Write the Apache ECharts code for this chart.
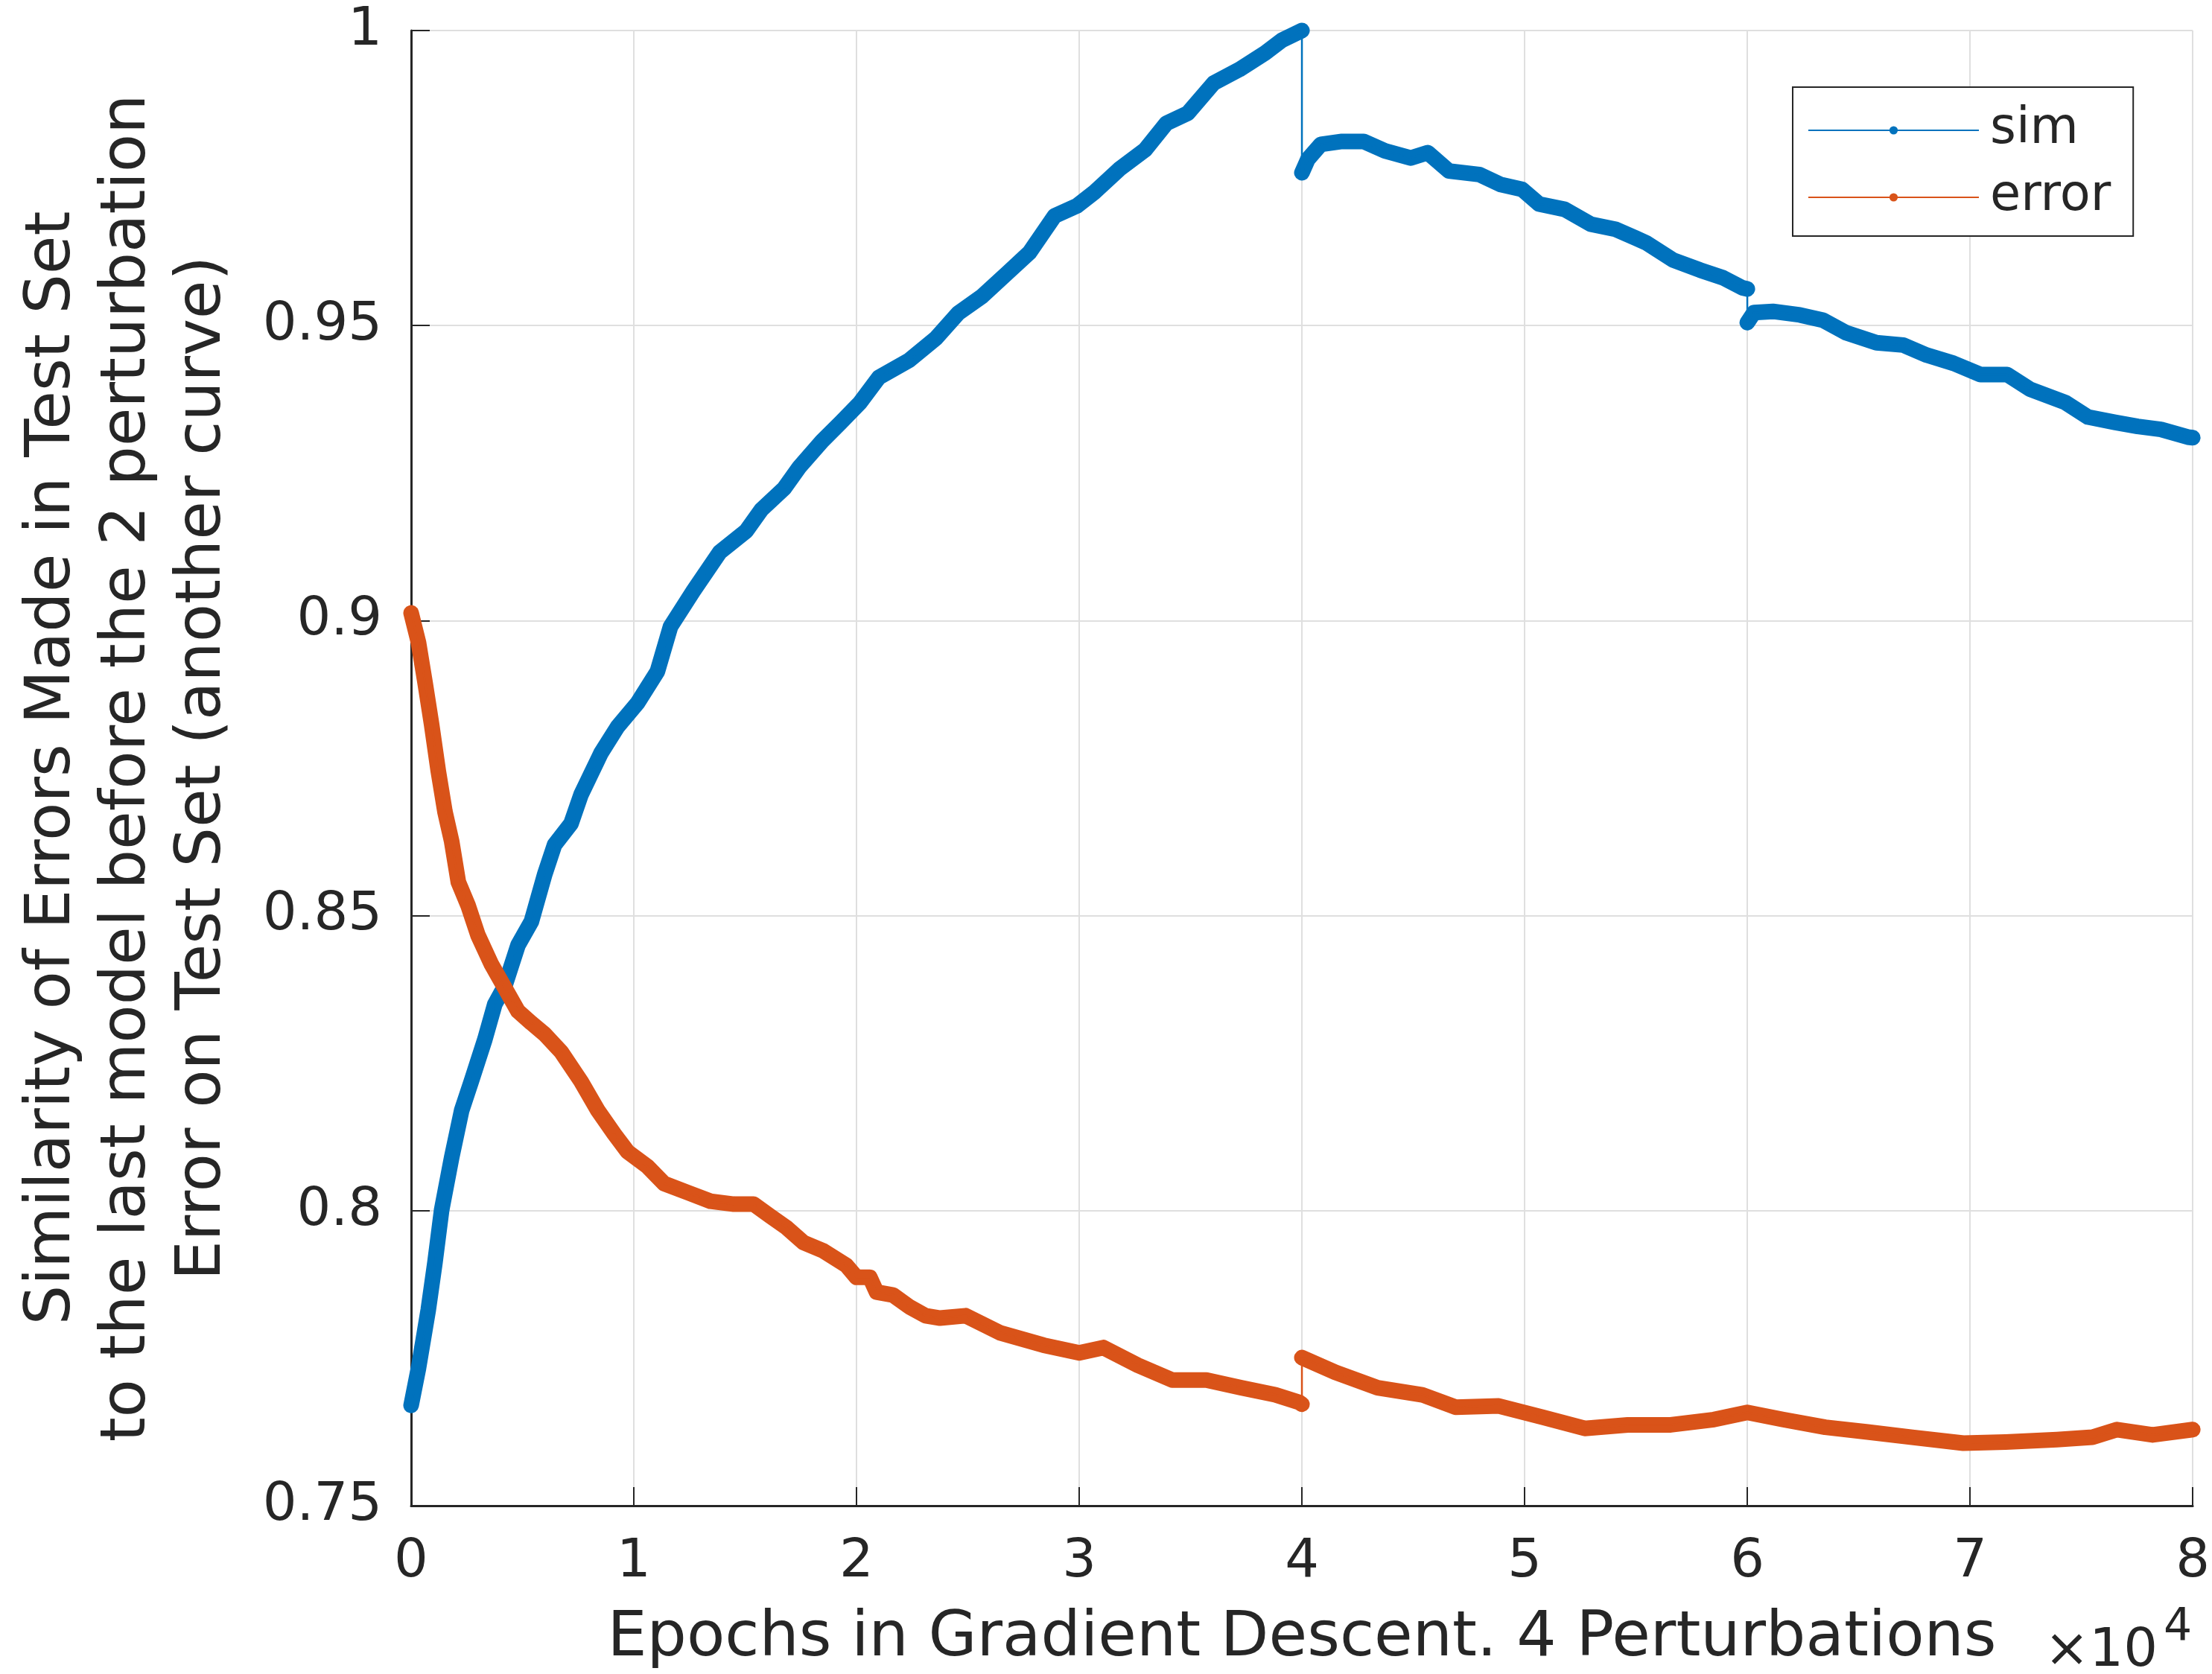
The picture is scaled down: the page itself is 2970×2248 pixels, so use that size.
<!DOCTYPE html>
<html><head><meta charset="utf-8">
<script src="https://cdn.jsdelivr.net/npm/echarts@6/dist/echarts.min.js"></script>
<style>html,body{margin:0;padding:0;background:#fff}#c{width:2970px;height:2248px}</style>
</head><body><div id="c"></div>
<script>
// ---- data (epochs, values) ----
const simEpochs = [0,330,770,1070,1370,1820,2270,2710,3310,3760,4200,4800,5400,6000,6440,7180,7630,8520,9270,10160,11060,11650,12670,13860,15050,15730,16750,17430,18450,19300,20150,21000,22360,23550,24570,25650,26800,27770,28900,29900,30650,31800,32960,33920,34880,36040,37190,38350,39120,40000,
  40000,40270,40850,41800,42770,43730,44880,45650,46600,47960,48920,49880,50650,51800,52960,54100,55000,55470,56670,57880,58910,59780,60000,
  60000,60300,61150,62360,63400,64430,65800,67000,68050,69260,70470,71670,72700,74260,75300,76500,77530,78570,79780,80000];
const simValues = [0.767,0.7733,0.7832,0.7912,0.8001,0.809,0.817,0.822,0.829,0.835,0.838,0.845,0.849,0.857,0.862,0.8656,0.8705,0.8775,0.882,0.886,0.8914,0.899,0.905,0.9116,0.9152,0.9188,0.9224,0.926,0.9304,0.9336,0.9369,0.9412,0.9441,0.9478,0.9521,0.955,0.959,0.9624,0.9686,0.9703,0.9725,0.9765,0.9798,0.9843,0.986,0.9911,0.9934,0.9962,0.9984,1.0,
  0.9759,0.9782,0.9807,0.9812,0.9812,0.9796,0.9784,0.9793,0.9762,0.9756,0.9739,0.9731,0.9706,0.9697,0.9672,0.9663,0.9648,0.964,0.9611,0.9594,0.9581,0.9564,0.9562,
  0.9505,0.9522,0.9524,0.9518,0.9509,0.9488,0.9471,0.9467,0.945,0.9436,0.9417,0.9417,0.9392,0.937,0.9345,0.9336,0.9329,0.9324,0.9311,0.931];

const errorEpochs = [0,330,630,920,1220,1520,1820,2120,2560,3000,3600,4200,4800,5400,6000,6740,7630,8380,9120,9720,10610,11360,12400,13440,14490,15380,16120,16870,17620,18500,19550,20000,20600,20900,21640,22380,23100,23750,24900,26450,28400,30000,31080,32630,34170,35710,37260,38800,39880,40000,
  40000,41500,43400,45400,46900,48840,50800,52700,54630,56560,58500,60000,61600,63500,65400,67400,69700,71600,73900,75500,76600,78200,80000];
const errorValues = [0.9013,0.8963,0.8894,0.8824,0.8745,0.8676,0.8626,0.8557,0.8517,0.8467,0.8418,0.8378,0.8338,0.8318,0.8299,0.8269,0.8219,0.817,0.813,0.810,0.8075,0.8046,0.8031,0.8016,0.8011,0.8011,0.7991,0.7971,0.7946,0.7932,0.7907,0.7887,0.7887,0.7862,0.7857,0.7837,0.7822,0.7818,0.7822,0.7793,0.7772,0.7759,0.7768,0.7738,0.7713,0.7713,0.770,0.7688,0.7675,0.7672,
  0.7751,0.7726,0.770,0.7688,0.7667,0.7669,0.765,0.7631,0.7637,0.7637,0.7646,0.7658,0.7646,0.7633,0.7625,0.7616,0.7606,0.7608,0.7612,0.7616,0.7629,0.762,0.7629];

const xTickLabels = ['0','1','2','3','4','5','6','7','8'];
const seriesNames = ['sim','error'];
const xLabel = 'Epochs in Gradient Descent. 4 Perturbations';
const yLabel = 'Similarity of Errors Made in Test Set\nto the last model before the 2 perturbation\nError on Test Set (another curve)';

const FONT = 'DejaVu Sans';
const TXT = '#262626';
const colors = ['#0072BD', '#D95319'];

function pairs(xs, ys) { return xs.map((x, i) => [x, ys[i]]); }
function bodyData(xs, ys) {
  const out = [];
  for (let i = 0; i < xs.length; i++) {
    if (i > 0 && xs[i] === xs[i - 1]) out.push([xs[i], '-']);
    out.push([xs[i], ys[i]]);
  }
  return out;
}

function makeSeries(name, xs, ys, color) {
  return [
    { name: name + '_body', type: 'line', data: bodyData(xs, ys), showSymbol: false, symbol: 'none',
      clip: false, silent: true, connectNulls: false,
      lineStyle: { width: 21, color: color, cap: 'round', join: 'round' }, emphasis: { disabled: true } },
    { name: name, type: 'line', data: pairs(xs, ys), symbol: 'circle', showSymbol: false, clip: false,
      silent: true, itemStyle: { color: color },
      lineStyle: { width: 2.5, color: color }, emphasis: { disabled: true } }
  ];
}

const chart = echarts.init(document.getElementById('c'), null, { renderer: 'canvas' });
chart.setOption({
  animation: false,
  backgroundColor: '#fff',
  grid: { left: 552, right: 22, top: 41, bottom: 226, containLabel: false },
  xAxis: {
    type: 'value', min: 0, max: 80000, interval: 10000,
    name: xLabel, nameLocation: 'middle', nameGap: 137,
    nameTextStyle: { fontFamily: FONT, fontSize: 84, color: TXT },
    axisLine: { show: true, onZero: false, lineStyle: { color: TXT, width: 3 } },
    axisTick: { show: true, inside: true, length: 25, lineStyle: { color: TXT, width: 2 } },
    axisLabel: { margin: 40, fontFamily: FONT, fontSize: 72, color: TXT,
      formatter: v => xTickLabels[Math.round(v / 10000)] },
    splitLine: { show: true, lineStyle: { color: '#dfdfdf', width: 2 } }
  },
  yAxis: {
    type: 'value', min: 0.75, max: 1, interval: 0.05,
    name: yLabel, nameLocation: 'middle', nameGap: 228, nameRotate: 90,
    nameTextStyle: { fontFamily: FONT, fontSize: 84, color: TXT, lineHeight: 101, align: 'center' },
    axisLine: { show: true, onZero: false, lineStyle: { color: TXT, width: 3 } },
    axisTick: { show: true, inside: true, length: 25, lineStyle: { color: TXT, width: 2 } },
    axisLabel: { margin: 39, fontFamily: FONT, fontSize: 72, color: TXT },
    splitLine: { show: true, lineStyle: { color: '#dfdfdf', width: 2 } }
  },
  legend: {
    data: seriesNames, orient: 'vertical', left: 2407, top: 117,
    padding: [18, 30, 12, 20], itemWidth: 229, itemHeight: 14, itemGap: 10,
    borderColor: TXT, borderWidth: 2, backgroundColor: '#fff', selectedMode: false,
    textStyle: { fontFamily: FONT, fontSize: 67, color: TXT, lineHeight: 80, padding: [0, 0, 0, 10] }
  },
  graphic: [
    { type: 'text', x: 2745, y: 2218, style: { text: '×10', font: '72px "DejaVu Sans"', fill: TXT, textAlign: 'left', textVerticalAlign: 'middle' } },
    { type: 'text', x: 2905, y: 2186, style: { text: '4', font: '60px "DejaVu Sans"', fill: TXT, textAlign: 'left', textVerticalAlign: 'middle' } }
  ],
  series: [
    ...makeSeries(seriesNames[0], simEpochs, simValues, colors[0]),
    ...makeSeries(seriesNames[1], errorEpochs, errorValues, colors[1])
  ]
});
</script>
</body></html>
